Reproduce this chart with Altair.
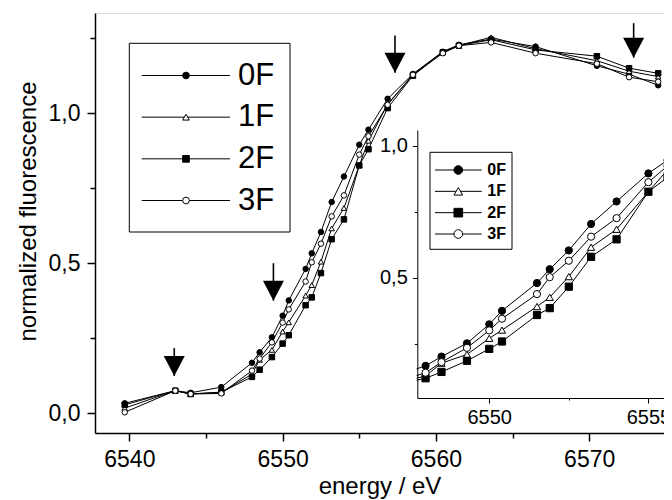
import altair as alt
import pandas as pd

FONT = "Liberation Sans"

# ---------------- data ----------------
energy = [6539.7, 6543.0, 6544.0, 6546.0, 6548.0, 6548.5, 6549.3, 6550.0, 6550.4,
          6551.5, 6551.9, 6552.5, 6553.2, 6554.0, 6555.0, 6555.6, 6556.85, 6558.5,
          6560.45, 6561.5, 6563.6, 6566.5, 6570.5, 6572.6, 6574.5]
f0 = [0.033, 0.075, 0.068, 0.087, 0.168, 0.203, 0.253, 0.325, 0.376, 0.481, 0.533, 0.604,
      0.704, 0.789, 0.895, 0.945, 1.048, 1.131, 1.205, 1.228, 1.247, 1.222, 1.158, 1.130, 1.093]
f1 = [0.017, 0.075, 0.064, 0.070, 0.130, 0.178, 0.211, 0.272, 0.303, 0.392, 0.427, 0.505,
      0.616, 0.684, 0.826, 0.908, 1.030, 1.128, 1.205, 1.226, 1.253, 1.215, 1.175, 1.140, 1.122]
f2 = [0.028, 0.075, 0.064, 0.070, 0.121, 0.145, 0.187, 0.232, 0.260, 0.360, 0.386, 0.467,
      0.580, 0.646, 0.826, 0.880, 1.017, 1.125, 1.203, 1.225, 1.245, 1.211, 1.190, 1.150, 1.133]
f3 = [0.003, 0.075, 0.064, 0.066, 0.142, 0.182, 0.236, 0.302, 0.346, 0.439, 0.503, 0.565,
      0.656, 0.726, 0.862, 0.923, 1.028, 1.128, 1.200, 1.225, 1.236, 1.200, 1.165, 1.120, 1.105]

series = ["0F", "1F", "2F", "3F"]
series_idx = [0, 1, 2, 3]
shapes = ["circle", "triangle-up", "square", "circle"]
fills = ["black", "white", "black", "white"]

arrow_energy = [6542.93, 6549.4, 6557.33, 6572.9]
arrow_tip = [0.124, 0.375, 1.135, 1.185]
arrow_top = [0.217, 0.500, 1.259, 1.300]

x_ticks = [6540, 6545, 6550, 6555, 6560, 6565, 6570, 6575]
y_ticks = [0.0, 0.25, 0.5, 0.75, 1.0, 1.25]
inset_x_ticks = [6550, 6552.5, 6555]
inset_y_ticks = [0.25, 0.5, 0.75, 1.0]

# ---------------- tables ----------------
rows = []
for name, shp, fil, vals in zip(series, shapes, fills, [f0, f1, f2, f3]):
    for e, v in zip(energy, vals):
        rows.append({"series": name, "shape": shp, "fill": fil, "E": e, "v": v})
df = pd.DataFrame(rows)
df_inset_line = df[(df["E"] >= 6546) & (df["E"] <= 6557)]
df_inset_pts = df[(df["E"] >= 6547.74) & (df["E"] <= 6555.8)]
arrows = pd.DataFrame({"E": arrow_energy, "tip": arrow_tip, "top": arrow_top})
leg = pd.DataFrame({"series": series, "idx": series_idx, "shape": shapes, "fill": fills})
one = pd.DataFrame({"a": [0]})

W, H = 569, 420
xs_main = alt.Scale(domain=[6537.76, 6574.88], nice=False, zero=False)
ys_main = alt.Scale(domain=[-0.066, 1.334], nice=False, zero=False)
xs_in = alt.Scale(domain=[6547.74, 6555.49], range=[322.3, W], nice=False, zero=False)
ys_in = alt.Scale(domain=[0.0465, 1.059], range=[385, 117], nice=False, zero=False)

common_axis = dict(labelFont=FONT, labelColor="black", domainColor="black",
                   tickColor="black", grid=False, labelFlush=False, labelOverlap=False)

x_axis = alt.Axis(values=x_ticks, format="d",
                  labelExpr="datum.value % 10 === 0 ? datum.label : ''",
                  tickSize={"condition": {"test": "datum.value % 10 === 0", "value": 8}, "value": 5},
                  labelPadding=7, labelFontSize=23, domainWidth=1.5, tickWidth=1.5,
                  title="energy / eV", titleFont=FONT, titleFontSize=24,
                  titleFontWeight="normal", titleColor="black", titleY=60,
                  titleBaseline="alphabetic", **common_axis)
y_axis = alt.Axis(values=y_ticks,
                  labelExpr="round(datum.value*4) % 2 === 0 ? replace(format(datum.value, '.1f'), '.', ',') : ''",
                  tickSize={"condition": {"test": "round(datum.value*4) % 2 === 0", "value": 8}, "value": 5},
                  labelPadding=7, labelFontSize=23, domainWidth=1.5, tickWidth=1.5,
                  title="normalized fluorescence", titleFont=FONT, titleFontSize=24,
                  titleFontWeight="normal", titleColor="black", titleX=-60, titleY=198,
                  titleBaseline="alphabetic", **common_axis)

xi_axis = alt.Axis(orient="bottom", offset=-35, values=inset_x_ticks,
                   labelExpr="datum.value % 5 === 0 ? format(datum.value, 'd') : ''",
                   tickSize={"condition": {"test": "datum.value % 5 === 0", "value": 5}, "value": 2},
                   labelPadding=4, labelFontSize=20, domainWidth=1, tickWidth=1, title=None,
                   **common_axis)
yi_axis = alt.Axis(orient="left", offset=-322.3, values=inset_y_ticks,
                   labelExpr="round(datum.value*4) % 2 === 0 ? replace(format(datum.value, '.1f'), '.', ',') : ''",
                   tickSize={"condition": {"test": "round(datum.value*4) % 2 === 0", "value": 5}, "value": 3},
                   labelPadding=5, labelFontSize=20, domainWidth=1, tickWidth=1, title=None,
                   **common_axis)

# ---------------- main plot ----------------
mx = alt.X("E:Q", scale=xs_main, axis=x_axis)
my = alt.Y("v:Q", scale=ys_main, axis=y_axis)

main_lines = alt.Chart(df).mark_line(color="black", strokeWidth=1).encode(
    x=mx, y=my, detail="series:N", order="E:Q")
main_pts = alt.Chart(df).mark_point(filled=True, stroke="black", strokeWidth=1, size=30, opacity=1).encode(
    x=mx, y=my, shape=alt.Shape("shape:N", scale=None), fill=alt.Fill("fill:N", scale=None))
arrow_rules = alt.Chart(arrows).mark_rule(color="black", strokeWidth=1.6).encode(
    x=alt.X("E:Q", scale=xs_main), y=alt.Y("top:Q", scale=ys_main), y2="tip:Q")
arrow_heads = alt.Chart(arrows).mark_point(shape="M-1,-1.9L1,-1.9L0,0Z", filled=True,
                                            color="black", size=441, opacity=1).encode(
    x=alt.X("E:Q", scale=xs_main), y=alt.Y("tip:Q", scale=ys_main))
main_layer = alt.layer(main_lines, main_pts, arrow_rules, arrow_heads)

# ---------------- inset ----------------
ix = alt.X("E:Q", scale=xs_in, axis=xi_axis)
iy = alt.Y("v:Q", scale=ys_in, axis=yi_axis)
inset_lines = alt.Chart(df_inset_line).mark_line(color="black", strokeWidth=1).encode(
    x=ix, y=iy, detail="series:N", order="E:Q")
inset_pts = alt.Chart(df_inset_pts).mark_point(filled=True, stroke="black", strokeWidth=1, size=52, opacity=1).encode(
    x=ix, y=iy, shape=alt.Shape("shape:N", scale=None), fill=alt.Fill("fill:N", scale=None))
mask = alt.Chart(one).mark_rect(fill="white", stroke=None).encode(
    x=alt.value(250), x2=alt.value(321.6), y=alt.value(340), y2=alt.value(384.4))
inset_layer = alt.layer(inset_lines, inset_pts, mask)

# ---------------- legends ----------------
def legend(box, line_x, mark_x, text_x, y_range, msize, fsize, weight):
    ly = alt.Y("idx:Q", scale=alt.Scale(domain=[0, 3], range=y_range, nice=False, zero=False), axis=None)
    frame = alt.Chart(one).mark_rect(fill="white", stroke="black", strokeWidth=1).encode(
        x=alt.value(box[0]), x2=alt.value(box[1]), y=alt.value(box[2]), y2=alt.value(box[3]))
    lines = alt.Chart(leg).mark_rule(color="black", strokeWidth=1).encode(
        x=alt.value(line_x[0]), x2=alt.value(line_x[1]), y=ly)
    marks = alt.Chart(leg).mark_point(filled=True, stroke="black", strokeWidth=1, size=msize, opacity=1).encode(
        x=alt.value(mark_x), y=ly, shape=alt.Shape("shape:N", scale=None), fill=alt.Fill("fill:N", scale=None))
    texts = alt.Chart(leg).mark_text(align="left", baseline="middle", font=FONT, fontSize=fsize,
                                     fontWeight=weight, color="black").encode(
        x=alt.value(text_x), y=ly, text="series:N")
    return alt.layer(frame, lines, marks, texts)

main_leg = legend([34.3, 195, 30.3, 219], [46.7, 135], 91, 143, [62.5, 187.5], 45, 31, "normal")
inset_leg = legend([335, 417, 139.3, 236.3], [340, 386.7], 363.3, 392.3, [157, 221], 75, 16, "bold")

chart = alt.layer(main_layer, inset_layer, main_leg, inset_leg).resolve_scale(
    x="independent", y="independent"
).properties(
    width=W, height=H,
    autosize=alt.AutoSizeParams(type="none"),
    padding={"left": 87, "top": 5, "right": 0, "bottom": 67},
).configure_view(stroke=None).configure(background="white")

chart.save("out.html", embed_options={"renderer": "svg", "actions": False})
